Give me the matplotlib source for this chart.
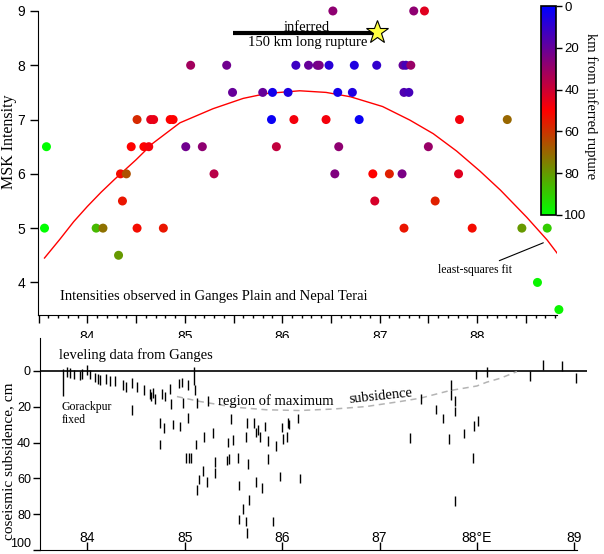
import matplotlib
matplotlib.use('Agg')
import matplotlib.pyplot as plt
import numpy as np
from matplotlib.colors import LinearSegmentedColormap, Normalize
from matplotlib.cm import ScalarMappable
from matplotlib.ticker import MultipleLocator

# --- MSK intensities, Ganges plain / Nepal Terai (top panel) ---
msk_lon = [86.52, 87.35, 87.46,
           85.06, 85.43, 86.14, 86.27, 86.36, 86.38, 86.48, 86.74, 86.97, 87.24, 87.27, 87.32,
           85.49, 85.80, 85.90, 86.06, 86.57, 86.72, 87.25, 87.30,
           84.51, 84.65, 84.68, 84.85, 84.88, 85.89, 86.12, 86.45, 86.79, 87.82, 88.31,
           83.58, 84.45, 84.58, 84.63, 85.01, 85.18, 85.94, 86.58, 87.50,
           84.34, 84.40, 85.30, 86.54, 86.93, 87.10, 87.23, 87.81,
           84.36, 86.95, 87.57,
           83.56, 84.09, 84.16, 84.51, 84.78, 87.25, 87.95, 88.46, 88.72,
           84.32, 88.62, 88.84]
msk_int = [9] * 3 + [8] * 12 + [7.5] * 8 + [7] * 11 + [6.5] * 9 + [6] * 8 + [5.5] * 3 \
    + [5] * 9 + [4.5, 4, 3.5]
msk_dist = [28, 28, 44,
            32, 22, 12, 20, 22, 24, 8, 6, 10, 20, 14, 30,
            20, 20, 4, 6, 4, 6, 16, 14,
            58, 44, 46, 50, 50, 2, 48, 48, 2, 48, 70,
            100, 50, 50, 48, 22, 28, 38, 28, 30,
            52, 66, 36, 25, 50, 56, 24, 44,
            54, 42, 56,
            100, 86, 72, 52, 54, 54, 52, 80, 90,
            80, 98, 98]

# least-squares fit curve
fit_lon = [83.56, 83.72, 83.86, 84.0, 84.14, 84.28, 84.50, 84.67, 84.95, 85.29, 85.60,
           85.84, 86.18, 86.45, 86.70, 87.03, 87.31, 87.55, 87.79, 88.03, 88.24, 88.51,
           88.72, 88.83]
fit_int = [4.45, 4.80, 5.12, 5.40, 5.66, 5.90, 6.26, 6.56, 6.94, 7.20, 7.39,
           7.48, 7.53, 7.50, 7.42, 7.24, 6.99, 6.74, 6.42, 6.05, 5.70, 5.20,
           4.78, 4.52]

rupture_lon = [85.49, 86.97]
rupture_int = [8.59, 8.59]
epicentre_lon, epicentre_int = 86.97, 8.62

top_xlabels = ['84', '85', '86', '87', '88']

# --- leveling data from Ganges (bottom panel), coseismic subsidence in cm ---
lev_lon = [83.79, 83.82, 83.86, 83.92, 83.95, 84.00, 84.03, 84.08, 84.11, 84.13, 84.19,
           84.23, 84.28, 84.37, 84.40, 84.46, 84.46, 84.51, 84.58, 84.64, 84.65, 84.67,
           84.70, 84.75, 84.79, 84.75, 84.77, 84.80, 84.85, 84.86, 84.88, 84.95, 84.94,
           84.97, 85.03, 84.98, 85.03, 85.11, 85.13, 85.12, 85.24,
           85.015, 85.04, 85.065, 85.13, 85.15, 85.19, 85.23, 85.20, 85.29, 85.31, 85.31,
           85.43, 85.45, 85.44, 85.48, 85.50, 85.55, 85.56, 85.63, 85.65, 85.66, 85.60,
           85.56, 85.63, 85.64, 85.64, 85.71, 85.73, 85.75, 85.77, 85.73, 85.79, 85.82,
           85.85, 85.85, 85.91, 85.94, 85.98, 86.00, 86.01, 86.05, 86.06, 86.07, 86.16,
           86.18,
           87.31, 87.43, 87.58, 87.65, 87.71, 87.73, 87.73, 87.78, 87.78, 87.77, 87.87,
           87.96, 87.97, 88.01, 87.99, 88.10, 88.54, 88.68, 88.87, 89.02]
lev_cm = [0.7, 1.0, 2.0, 2.5, 1.6, -0.5, 1.9, 3.7, 4.4, 5.0, 4.4,
          5.5, 5.6, 7.8, 8.9, 6.9, 21.7, 9.1, 10.8, 12.8, 14.3, 12.4,
          15.6, 29, 32, 41, 12.8, 14.3, 10, 18.4, 30, 31, 7,
          6.5, 8, 18, 26.4, 10.6, 17.8, 41, 16.8,
          48.6, 48.6, 48.6, 66.5, 60.6, 56, 62, 37, 34.5, 51, 57,
          50, 49, 40, 27, 38.5, 48.6, 64, 37, 52, 72, 77,
          83, 84, 90.5, 29, 29, 34.4, 33, 37, 62, 65.5, 31,
          49, 39, 84, 42, 59, 31.5, 38, 37, 29, 30, 26.5,
          60,
          37.6, 15.7, 21.5, 26.5, 38, 8, 13.6, 16.8, 22.7, 72.5, 35,
          48.6, 30.6, 27.8, 2, 0.5, 2.7, -3.3, -2.6, 4]
# two longer bars (Gorakhpur reference, and one near 85.1 E)
long_lon = [83.75, 85.10]
long_top = [-1.0, -2.0]
long_bot = [14.0, 8.0]

maxsub_lon = [84.92, 85.16, 85.50, 85.84, 86.18, 86.52, 86.86, 87.21, 87.42, 87.72,
              88.00, 88.10, 88.24, 88.41]
maxsub_cm = [14.3, 17.1, 20.2, 21.7, 22.1, 21.3, 19.9, 17.1, 15.2, 11.0,
             8.4, 6.3, 4.1, 0.4]

bot_xlabels = ['84', '85', '86', '87', '88°E', '89']

serif = 'Liberation Serif'
sans = 'Liberation Sans'
plt.rcParams['font.family'] = [sans, 'DejaVu Sans']
cmap = LinearSegmentedColormap.from_list('rupt', ['#0000ff', '#ff0000', '#00ff00'])
norm = Normalize(0, 100)

fig = plt.figure(figsize=(6.04, 5.54), dpi=100)

# ---------------- top panel ----------------
ax = fig.add_axes([0.0624, 0.4314, 0.8597, 0.5488])
ax.scatter(msk_lon, msk_int, c=msk_dist, cmap=cmap, norm=norm, s=42, marker='o',
           linewidths=0, clip_on=False, zorder=3)
ax.plot(fit_lon, fit_int, color='red', lw=1.0, zorder=2)
ax.plot(rupture_lon, rupture_int, color='black', lw=3, solid_capstyle='butt', zorder=4)
ax.plot(epicentre_lon, epicentre_int, marker='*', ms=17, mfc='#ffff40', mec='black',
        mew=0.8, clip_on=False, zorder=5)
ax.text(86.25, 8.63, 'inferred', family=serif, fontsize=10.5, ha='center', va='baseline')
ax.text(86.26, 8.355, '150 km long rupture', family=serif, fontsize=10.5,
        ha='center', va='baseline')
ax.text(83.72, 3.68, 'Intensities observed in Ganges Plain and Nepal Terai',
        family=serif, fontsize=10.5, ha='left', va='baseline')
ax.annotate('least-squares fit', xy=(88.68, 4.73), xytext=(88.36, 4.22),
            family=serif, fontsize=8.5, ha='right', va='center',
            arrowprops=dict(arrowstyle='-', color='black', lw=0.8, shrinkA=2, shrinkB=0))

ax.set_xlim(83.49, 88.82)
ax.set_ylim(3.4, 9.0)
for s in ['top', 'right']:
    ax.spines[s].set_visible(False)
ax.xaxis.set_major_locator(MultipleLocator(0.5))
ax.xaxis.set_minor_locator(MultipleLocator(0.1))
ax.set_xticklabels([top_xlabels[int(t) - 84] if float(t).is_integer() and 84 <= t <= 88 else ''
                    for t in ax.get_xticks()])
ax.tick_params(axis='x', which='major', length=6, width=1, pad=5, labelsize=10)
ax.tick_params(axis='x', which='minor', length=2.5, width=1)
ax.set_yticks([4, 5, 6, 7, 8, 9])
ax.tick_params(axis='y', length=6, width=1, pad=3, labelsize=10)
ax.set_ylabel('MSK Intensity', family=serif, fontsize=11.5)
ax.yaxis.set_label_coords(-0.040, 0.57)

# colorbar
cax = fig.add_axes([0.8957, 0.612, 0.0248, 0.377])
sm = ScalarMappable(norm=norm, cmap=cmap)
cbar = fig.colorbar(sm, cax=cax)
cax.invert_yaxis()
cbar.set_ticks([0, 20, 40, 60, 80, 100])
cbar.outline.set_linewidth(1.2)
cax.tick_params(length=4, width=1, pad=2, labelsize=9.5)
cax.text(3.3, 0.52, 'km from inferred rupture', transform=cax.transAxes, rotation=270,
         family=serif, fontsize=10.5, ha='center', va='center')

# ---------------- bottom panel ----------------
bx = fig.add_axes([0.0662, 0.00722, 0.9056, 0.3827])
bx.axhline(0, color='black', lw=1.2, zorder=1)
half = 2.7
lev_lon = np.array(lev_lon)
lev_cm = np.array(lev_cm)
bx.vlines(lev_lon, lev_cm - half, lev_cm + half, color='black', lw=1.0, zorder=3)
bx.vlines(long_lon, long_top, long_bot, color='black', lw=1.0, zorder=3)
bx.plot(maxsub_lon, maxsub_cm, color='#b4b4b4', lw=1.1, dashes=(4, 3), zorder=2)

bx.text(83.71, -6.7, 'leveling data from Ganges', family=serif, fontsize=10.5,
        ha='left', va='baseline')
bx.text(83.74, 17.0, 'Gorackpur\nfixed', family=serif, fontsize=8.5, ha='left', va='top',
        linespacing=1.05)
bx.text(85.34, 18.9, 'region of maximum', family=serif, fontsize=10.5, ha='left',
        va='baseline', zorder=4)
bx.text(86.69, 18.1, 'subsidence', family=serif, fontsize=10.5, ha='left',
        va='baseline', rotation=6, rotation_mode='anchor', zorder=4)

bx.set_xlim(83.514, 89.13)
bx.set_ylim(100, -18.4)
for s in ['top', 'right']:
    bx.spines[s].set_visible(False)
bx.spines['bottom'].set_bounds(83.514, 89.03)
bx.set_xticks([84, 85, 86, 87, 88, 89])
bx.set_xticklabels(bot_xlabels)
bx.tick_params(axis='x', direction='in', length=6, width=1, pad=-14, labelsize=10)
bx.set_yticks([0, 20, 40, 60, 80, 100])
bx.tick_params(axis='y', length=5, width=1, pad=1.5, labelsize=9)
bx.get_yticklabels()[-1].set_va('bottom')  # keep "100" inside the figure
bx.set_ylabel('coseismic subsidence, cm', family=serif, fontsize=11)
bx.yaxis.set_label_coords(-0.0445, 0.42)

fig.savefig('out.png', dpi=100)
